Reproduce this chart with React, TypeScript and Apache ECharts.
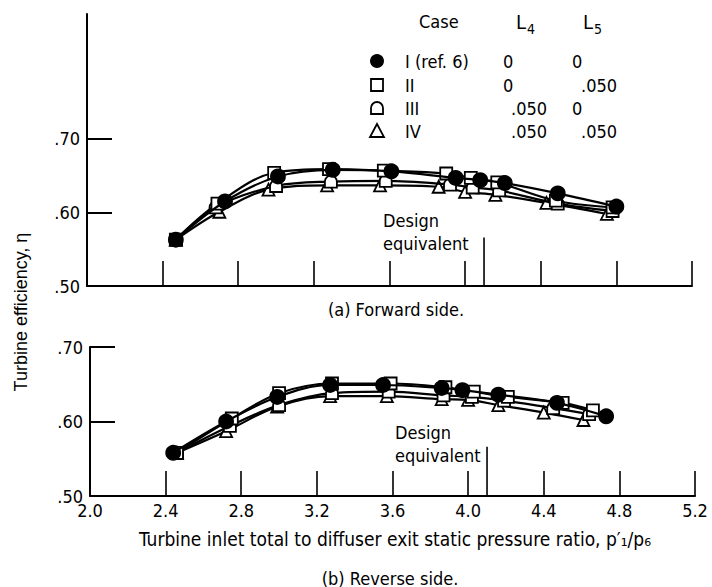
import React, { useEffect, useRef } from "react";
import * as echarts from "echarts";

// ---- axis values ----
const xLabelValues = [2.0, 2.4, 2.8, 3.2, 3.6, 4.0, 4.4, 4.8, 5.2];
const xTickValues = [2.4, 2.8, 3.2, 3.6, 4.0, 4.4, 4.8, 5.2];
const yLabelValues = [0.5, 0.6, 0.7];
const yTickValues = [0.6, 0.7];
const designRatio = 4.1;
const designLineTop = 0.566;

// ---- (a) Forward side: [pressure ratio, efficiency] ----
const fwdI = [[2.47, 0.563], [2.73, 0.615], [3.01, 0.649], [3.3, 0.658], [3.61, 0.656], [3.95, 0.647], [4.08, 0.644], [4.21, 0.64], [4.49, 0.626], [4.8, 0.608]];
const fwdII = [[2.47, 0.563], [2.69, 0.612], [2.99, 0.654], [3.28, 0.659], [3.57, 0.657], [3.9, 0.653], [4.03, 0.647], [4.17, 0.641], [4.48, 0.616], [4.78, 0.607]];
const fwdIII = [[2.47, 0.563], [2.68, 0.607], [3.0, 0.636], [3.29, 0.642], [3.58, 0.643], [3.92, 0.638], [4.04, 0.634], [4.18, 0.63], [4.49, 0.612], [4.78, 0.602]];
const fwdIV = [[2.47, 0.563], [2.7, 0.601], [2.96, 0.631], [3.27, 0.637], [3.55, 0.637], [3.86, 0.635], [4.0, 0.628], [4.16, 0.624], [4.43, 0.613], [4.75, 0.598]];

// ---- (b) Reverse side ----
const revI = [[2.44, 0.558], [2.72, 0.6], [2.99, 0.633], [3.27, 0.649], [3.55, 0.649], [3.86, 0.645], [3.97, 0.642], [4.16, 0.636], [4.47, 0.625], [4.73, 0.607]];
const revII = [[2.46, 0.558], [2.75, 0.604], [3.0, 0.638], [3.28, 0.651], [3.59, 0.651], [3.88, 0.646], [4.03, 0.64], [4.21, 0.633], [4.5, 0.625], [4.66, 0.615]];
const revIII = [[2.46, 0.558], [2.74, 0.594], [3.0, 0.622], [3.28, 0.638], [3.58, 0.64], [3.87, 0.635], [4.02, 0.633], [4.19, 0.628], [4.45, 0.618], [4.64, 0.61]];
const revIV = [[2.46, 0.558], [2.72, 0.587], [2.99, 0.62], [3.27, 0.634], [3.57, 0.634], [3.86, 0.63], [4.0, 0.629], [4.16, 0.622], [4.4, 0.612], [4.61, 0.602]];

// ---- legend table ----
const caseNames = ["I (ref. 6)", "II", "III", "IV"];
const l4Values = ["0", "0", ".050", ".050"];
const l5Values = ["0", ".050", "0", ".050"];

const COND = "'DejaVu Sans Condensed', 'Liberation Sans Narrow', sans-serif";
const SANS = "'Liberation Sans', Arial, sans-serif";
const ARCH_D = "M0,12L0,6A6,6 0 0 1 12,6L12,12Z";
const ARCH = "path://" + ARCH_D;

echarts.graphic.registerShape("archMark", echarts.graphic.extendPath(ARCH_D, {}));

const symbols = ["circle", "rect", ARCH, "triangle"];
const fills = ["#000", "#fff", "#fff", "#fff"];

function makeSeries(data: number[][], idx: number, grid: number) {
  return {
    type: "line",
    xAxisIndex: grid,
    yAxisIndex: grid,
    data,
    smooth: 0.35,
    symbol: symbols[idx],
    symbolSize: idx === 0 ? 14 : 12,
    showAllSymbol: true,
    lineStyle: { color: "#000", width: 2.2 },
    itemStyle: { color: fills[idx], borderColor: "#000", borderWidth: 1.8 },
    z: 10 - idx,
    silent: true,
  };
}

function xAxisCfg(grid: number, labels: boolean) {
  return {
    type: "value",
    gridIndex: grid,
    min: 2.0,
    max: 5.2,
    interval: 0.4,
    axisLine: { show: true, lineStyle: { color: "#000", width: 2 } },
    axisTick: { show: true, inside: true, length: 25, customValues: xTickValues, lineStyle: { color: "#000", width: 1.6 } },
    axisLabel: {
      show: labels,
      customValues: xLabelValues,
      formatter: (v: number) => v.toFixed(1),
      color: "#000",
      fontSize: 18,
      fontFamily: COND,
      margin: 5,
    },
    splitLine: { show: false },
  };
}

function yAxisCfg(grid: number, max: number) {
  return {
    type: "value",
    gridIndex: grid,
    min: 0.5,
    max,
    interval: 0.1,
    axisLine: { show: true, lineStyle: { color: "#000", width: 2 } },
    axisTick: { show: true, inside: true, length: 25, customValues: yTickValues, lineStyle: { color: "#000", width: 2 } },
    axisLabel: {
      show: true,
      customValues: yLabelValues,
      formatter: (v: number) => v.toFixed(2).replace(/^0/, ""),
      color: "#000",
      fontSize: 18,
      fontFamily: COND,
      margin: 7,
    },
    splitLine: { show: false },
  };
}

function txt(x: number, y: number, text: string, size = 18, family = COND, align = "left") {
  return {
    type: "text",
    x,
    y,
    silent: true,
    style: { text, fill: "#000", fontSize: size, fontFamily: family, align, verticalAlign: "middle" },
  };
}

export default function App() {
  const ref = useRef<HTMLDivElement>(null);
  useEffect(() => {
    if (!ref.current) return;
    const chart = echarts.init(ref.current, undefined, { renderer: "svg" });

    const legendRows = [61, 85, 108, 131];
    const legendGraphics: any[] = [];
    legendRows.forEach((y, i) => {
      legendGraphics.push(txt(405, y, caseNames[i], 18));
      const l4x = l4Values[i] === "0" ? 503 : 511;
      const l5x = l5Values[i] === "0" ? 572 : 581;
      legendGraphics.push(txt(l4x, y, l4Values[i], 18));
      legendGraphics.push(txt(l5x, y, l5Values[i], 18));
    });
    const mk = { fill: "#fff", stroke: "#000", lineWidth: 1.8 };
    legendGraphics.push({ type: "circle", shape: { cx: 377, cy: legendRows[0], r: 7 }, style: { fill: "#000" }, silent: true });
    legendGraphics.push({ type: "rect", shape: { x: 371, y: legendRows[1] - 6, width: 12, height: 12 }, style: mk, silent: true });
    legendGraphics.push({ type: "archMark", x: 371, y: legendRows[2] - 6, scaleX: 1, scaleY: 1, style: mk, silent: true });
    legendGraphics.push({ type: "polygon", shape: { points: [[377, legendRows[3] - 7], [384, legendRows[3] + 6], [370, legendRows[3] + 6]] }, style: mk, silent: true });

    const option: any = {
      animation: false,
      backgroundColor: "#fff",
      grid: [
        { left: 87, top: 14, width: 605, height: 272 },
        { left: 90, top: 347, width: 605, height: 149 },
      ],
      xAxis: [xAxisCfg(0, false), xAxisCfg(1, true)],
      yAxis: [yAxisCfg(0, 0.87), yAxisCfg(1, 0.7)],
      series: [
        makeSeries(fwdIV, 3, 0),
        makeSeries(fwdIII, 2, 0),
        makeSeries(fwdII, 1, 0),
        makeSeries(fwdI, 0, 0),
        makeSeries(revIV, 3, 1),
        makeSeries(revIII, 2, 1),
        makeSeries(revII, 1, 1),
        makeSeries(revI, 0, 1),
        {
          type: "line", xAxisIndex: 0, yAxisIndex: 0, symbol: "none", silent: true,
          data: [[designRatio, 0.5], [designRatio, designLineTop]],
          lineStyle: { color: "#000", width: 1.6 },
        },
        {
          type: "line", xAxisIndex: 1, yAxisIndex: 1, symbol: "none", silent: true,
          data: [[designRatio, 0.5], [designRatio, designLineTop]],
          lineStyle: { color: "#000", width: 1.6 },
        },
      ],
      graphic: [
        txt(419, 21, "Case", 18),
        txt(516, 22, "L", 20),
        txt(527, 29, "4", 14),
        txt(583, 22, "L", 20),
        txt(594, 29, "5", 14),
        ...legendGraphics,
        {
          type: "text", x: 21, y: 312, rotation: Math.PI / 2, silent: true,
          style: { text: "Turbine efficiency, \u03b7", fill: "#000", fontSize: 18, fontFamily: SANS, align: "center", verticalAlign: "middle" },
        },
        txt(383, 220, "Design", 18),
        txt(383, 243, "equivalent", 18),
        txt(395, 432, "Design", 18),
        txt(395, 455, "equivalent", 18),
        txt(396, 309, "(a) Forward side.", 18, COND, "center"),
        txt(395, 539, "Turbine inlet total to diffuser exit static pressure ratio, p\u2032\u2081/p\u2086", 19, COND, "center"),
        txt(390, 578, "(b) Reverse side.", 18, COND, "center"),
      ],
    };
    chart.setOption(option);
    return () => chart.dispose();
  }, []);
  return <div ref={ref} style={{ position: "absolute", left: 0, top: 0, width: 712, height: 587 }} />;
}
